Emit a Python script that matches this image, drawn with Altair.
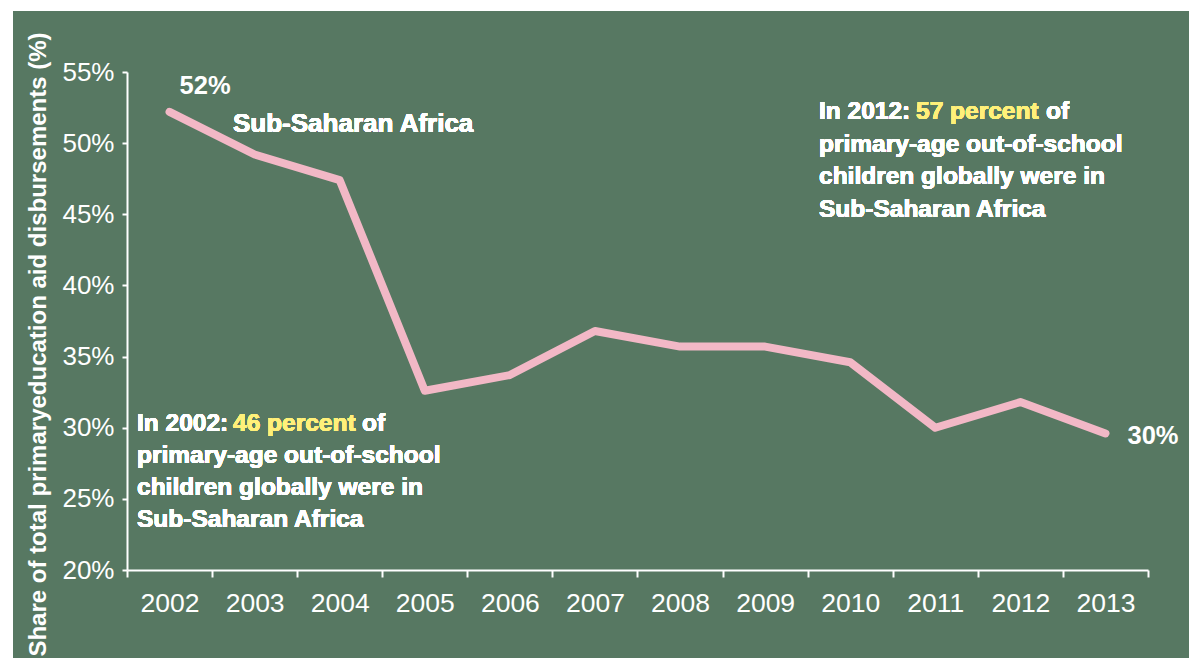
import altair as alt
import pandas as pd

years = [str(y) for y in range(2002, 2014)]
shares = [52.2, 49.2, 47.4, 32.6, 33.7, 36.8, 35.7, 35.7, 34.6, 30.0, 31.8, 29.6]

BG = "#577862"
PINK = "#F2B8C6"
YELLOW = "#FFF07A"
FONT = "Liberation Sans"

df = pd.DataFrame({"year": years, "share": shares})

W, H = 1021, 498

x_enc = alt.X("year:O", scale=alt.Scale(type="band", paddingInner=0, paddingOuter=0),
              bandPosition=0.5,
              axis=alt.Axis(title=None, tickBand="extent", domainColor="white", domainWidth=2,
                            tickColor="white", tickWidth=2, tickSize=7, labelColor="white",
                            labelFont=FONT, labelFontSize=26.5, labelPadding=13, labelAngle=0,
                            labelBaseline="top", zindex=1))
y_enc = alt.Y("share:Q", scale=alt.Scale(domain=[20, 55], nice=False, zero=False),
              axis=alt.Axis(values=list(range(20, 56, 5)), labelExpr="datum.value + '%'",
                            domainColor="white", domainWidth=2, tickColor="white", tickWidth=2,
                            tickSize=5, labelColor="white", labelFont=FONT, labelFontSize=26,
                            labelPadding=8, grid=False, zindex=1,
                            title="Share of total primaryeducation aid disbursements (%)",
                            titleColor="white", titleFont=FONT, titleFontSize=24,
                            titleFontWeight="bold", titleAngle=-90, titleX=-89, titleY=272,
                            titleAlign="center", titleBaseline="middle"))

bg = alt.Chart(df).mark_rect(color=BG).encode(
    x=alt.value(-114), x2=alt.value(1070), y=alt.value(-61), y2=alt.value(594))

line = alt.Chart(df).mark_line(color=PINK, strokeWidth=8, strokeCap="round",
                               strokeJoin="round").encode(x=x_enc, y=y_enc)

ends = alt.Chart(df).transform_calculate(
    lbl="round(datum.share) + '%'")

first_lbl = ends.transform_filter(alt.datum.year == years[0]).mark_text(
    font=FONT, fontSize=25.5, fontWeight="bold", color="white", align="left",
    baseline="alphabetic", dx=10, dy=-18).encode(x=x_enc, y=y_enc, text="lbl:N")
last_lbl = ends.transform_filter(alt.datum.year == years[-1]).mark_text(
    font=FONT, fontSize=25.5, fontWeight="bold", color="white", align="left",
    baseline="alphabetic", dx=22, dy=11).encode(x=x_enc, y=y_enc, text="lbl:N")

def txt(s, x, y, color="white", size=24.5):
    return alt.Chart(df).mark_text(text=s, font=FONT, fontSize=size, fontWeight="bold",
                                   color=color, align="left", baseline="alphabetic").encode(
        x=alt.value(x), y=alt.value(y))

notes = [
    txt("Sub-Saharan Africa", 106, 60, size=26),
    txt("In 2002:", 10, 359), txt("46 percent", 106, 359, YELLOW), txt("of", 235, 359),
    txt("primary-age out-of-school", 10, 391),
    txt("children globally were in", 10, 423),
    txt("Sub-Saharan Africa", 10, 455),
    txt("In 2012:", 692, 47), txt("57 percent", 789, 47, YELLOW), txt("of", 919, 47),
    txt("primary-age out-of-school", 692, 80),
    txt("children globally were in", 692, 112),
    txt("Sub-Saharan Africa", 692, 145),
]

chart = alt.layer(bg, line, first_lbl, last_lbl, *notes).properties(
    width=W, height=H,
    autosize=alt.AutoSizeParams(type="none"),
    padding={"left": 119, "top": 64, "right": 41, "bottom": 88},
    background="white",
).configure_view(stroke=None)

chart.save("out.html", embed_options={"renderer": "svg", "actions": False})
